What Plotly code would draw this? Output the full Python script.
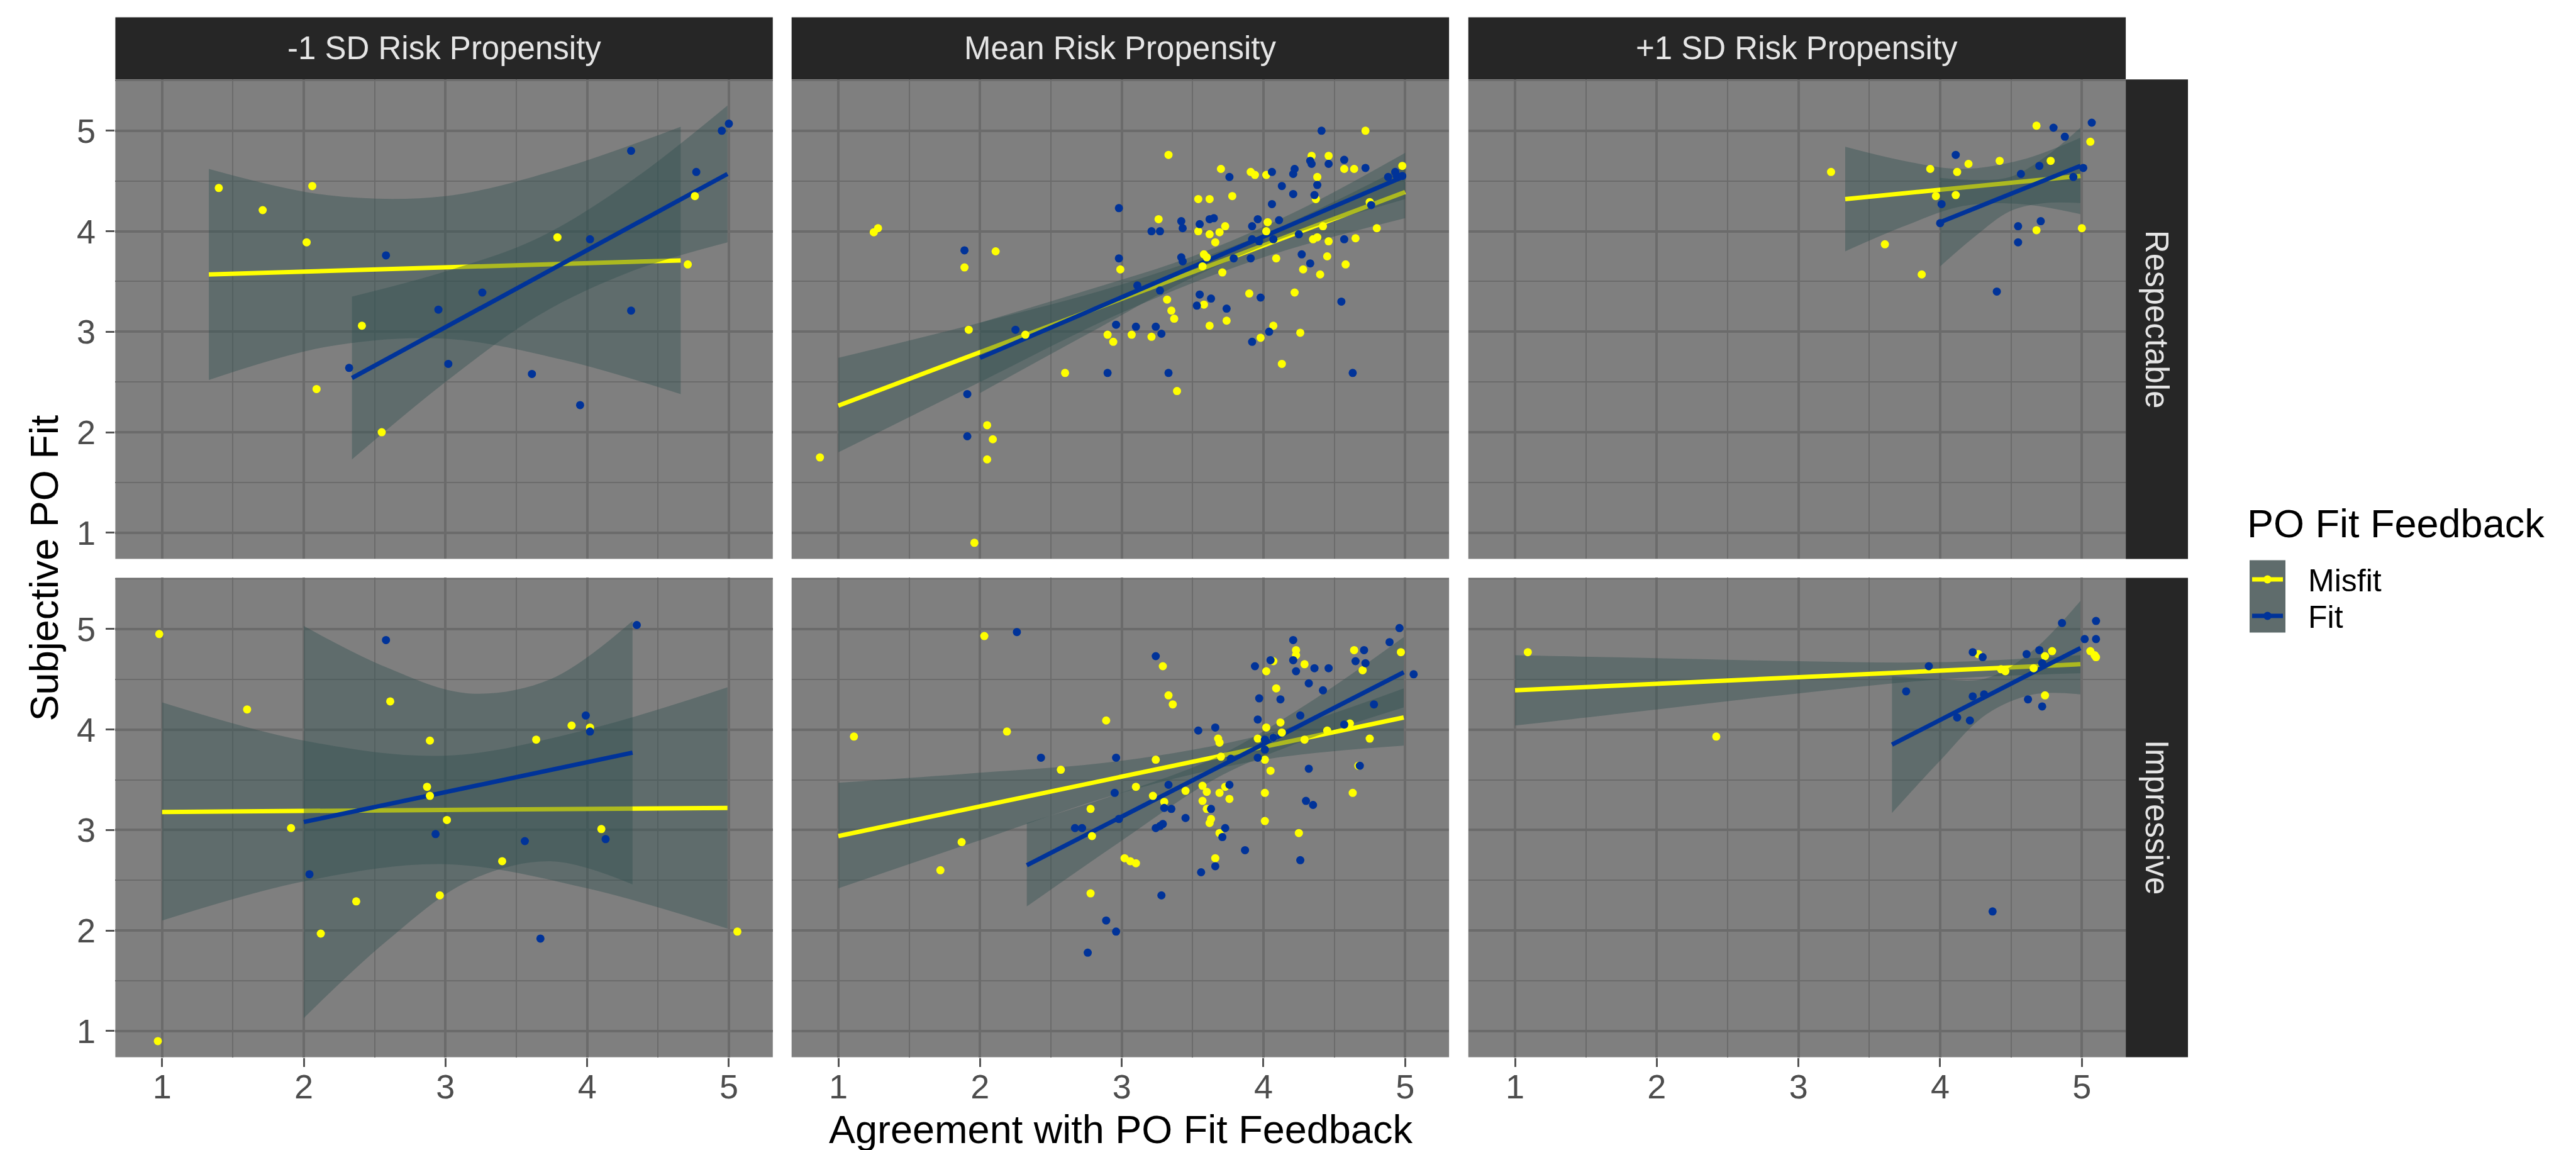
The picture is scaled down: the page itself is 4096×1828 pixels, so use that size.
import plotly.graph_objects as go

W, H = 4096, 1828
FONT = "Liberation Sans, Arial, sans-serif"
YELLOW = "#FFFF00"
BLUE = "#003399"
RIB = "rgba(47,79,79,0.4)"
GRID = "#6B6B6B"
PANEL_BG = "#7F7F7F"
STRIP_BG = "#262626"

# ---------------- categories / labels ----------------
col_labels = ["-1 SD Risk Propensity", "Mean Risk Propensity", "+1 SD Risk Propensity"]
row_labels = ["Respectable", "Impressive"]
group_labels = ["Misfit", "Fit"]
tick_vals = [1, 2, 3, 4, 5]
tick_text = ["1", "2", "3", "4", "5"]

# ---------------- points (jittered) ----------------
# Respectable, -1 SD
resp_low_misfit_x = [1.40, 2.06, 1.71, 2.02, 3.79, 4.71, 4.76, 2.41, 2.09, 2.55]
resp_low_misfit_y = [4.43, 4.45, 4.21, 3.89, 3.94, 3.67, 4.35, 3.06, 2.43, 2.00]
resp_low_fit_x = [5.00, 4.95, 4.31, 4.77, 4.02, 2.58, 3.26, 2.95, 4.31, 2.32, 3.02, 3.61, 3.95]
resp_low_fit_y = [5.07, 5.00, 4.80, 4.59, 3.92, 3.76, 3.39, 3.22, 3.21, 2.64, 2.68, 2.58, 2.27]

# Respectable, Mean
resp_mean_misfit_x = [0.87, 1.25, 1.28, 2.11, 1.89, 1.92, 2.32, 2.60, 2.05, 2.09, 2.05, 1.96, 3.33, 3.26,
                      2.99, 2.90, 2.94, 3.07, 3.21, 3.32, 3.35, 3.37, 3.39, 3.54, 3.62, 3.70, 3.78, 3.54,
                      3.62, 3.69, 3.73, 3.66, 3.58, 3.60, 3.57, 3.71, 3.58, 3.90, 3.74, 3.62, 3.91, 3.94,
                      4.02, 4.03, 4.02, 4.09, 4.07, 3.98, 4.13, 4.22, 4.26, 4.34, 4.46, 4.38, 4.37, 4.42,
                      4.35, 4.38, 4.46, 4.28, 4.40, 4.45, 4.58, 4.65, 4.57, 4.64, 4.72, 4.98, 4.75, 4.80]
resp_mean_misfit_y = [1.75, 3.99, 4.03, 3.80, 3.64, 3.02, 2.97, 2.59, 2.07, 1.93, 1.73, 0.90, 4.76, 4.12,
                      3.62, 2.97, 2.90, 2.97, 2.95, 3.32, 3.21, 3.13, 2.41, 4.32, 4.32, 4.62, 4.35, 4.00,
                      3.97, 3.99, 4.05, 3.89, 3.77, 3.74, 3.65, 3.59, 3.27, 3.38, 3.11, 3.06, 4.59, 4.56,
                      4.56, 4.09, 4.00, 3.73, 3.06, 2.94, 2.68, 3.39, 2.99, 4.75, 4.75, 4.54, 4.32, 4.05,
                      3.92, 3.94, 3.90, 3.62, 3.57, 3.75, 3.67, 3.93, 4.62, 4.62, 5.00, 4.65, 4.29, 4.03]
resp_mean_fit_x = [1.89, 1.91, 1.91, 2.25, 2.90, 2.98, 2.98, 3.11, 2.96, 3.10, 3.24, 3.28, 3.33, 3.27,
                   3.21, 3.27, 3.42, 3.43, 3.42, 3.43, 3.55, 3.62, 3.65, 3.55, 3.53, 3.63, 3.74, 3.76,
                   3.79, 3.91, 3.92, 3.96, 3.92, 3.97, 4.06, 4.06, 4.11, 4.13, 4.07, 3.98, 3.92, 4.04,
                   4.21, 4.22, 4.21, 4.25, 4.27, 4.33, 4.33, 4.34, 4.41, 4.38, 4.36, 4.46, 4.57, 4.57,
                   4.55, 4.63, 4.72, 4.88, 4.93, 4.94, 4.98, 4.76]
resp_mean_fit_y = [3.81, 2.38, 1.96, 3.02, 2.59, 4.23, 3.73, 3.46, 3.07, 3.05, 3.05, 2.98, 2.59, 3.41,
                   4.00, 4.00, 4.10, 4.03, 3.74, 3.70, 4.07, 4.12, 4.13, 3.37, 3.26, 3.33, 3.23, 4.54,
                   3.73, 3.73, 4.05, 4.12, 3.92, 3.90, 4.59, 4.27, 4.11, 4.45, 3.92, 3.34, 2.90, 3.00,
                   4.57, 4.62, 4.37, 3.97, 3.77, 3.68, 4.70, 4.67, 5.00, 4.46, 4.36, 4.67, 4.71, 3.92,
                   3.30, 2.59, 4.63, 4.54, 4.59, 4.55, 4.55, 4.26]

# Respectable, +1 SD
resp_high_misfit_x = [4.68, 5.06, 4.42, 4.78, 4.20, 3.93, 4.12, 3.23, 3.97, 4.11, 4.68, 5.00, 3.61, 3.87]
resp_high_misfit_y = [5.05, 4.89, 4.70, 4.70, 4.67, 4.62, 4.59, 4.59, 4.35, 4.36, 4.01, 4.03, 3.87, 3.57]
resp_high_fit_x = [5.07, 4.80, 4.88, 4.11, 4.70, 4.57, 5.01, 4.94, 4.01, 4.00, 4.55, 4.71, 4.55, 4.40]
resp_high_fit_y = [5.08, 5.03, 4.94, 4.76, 4.65, 4.57, 4.63, 4.54, 4.27, 4.08, 4.05, 4.10, 3.89, 3.40]

# Impressive, -1 SD
imp_low_misfit_x = [0.98, 1.60, 2.61, 2.89, 3.64, 3.89, 4.02, 2.87, 2.89, 3.01, 1.91, 4.10, 3.40, 2.96,
                    2.37, 2.12, 5.06, 0.97]
imp_low_misfit_y = [4.95, 4.20, 4.28, 3.89, 3.90, 4.04, 4.02, 3.43, 3.34, 3.10, 3.02, 3.01, 2.69, 2.35,
                    2.29, 1.97, 1.99, 0.90]
imp_low_fit_x = [4.35, 2.58, 3.99, 4.02, 2.93, 3.56, 4.13, 2.04, 3.67]
imp_low_fit_y = [5.04, 4.89, 4.14, 3.98, 2.96, 2.89, 2.91, 2.56, 1.92]

# Impressive, Mean
imp_mean_misfit_x = [1.11, 2.03, 2.19, 2.57, 1.87, 1.72, 2.89, 2.78, 2.79, 2.78, 3.02, 3.06, 3.10, 3.10,
                     3.22, 3.24, 3.29, 3.33, 3.36, 3.30, 3.45, 3.57, 3.60, 3.57, 3.60, 3.63, 3.62, 3.69,
                     3.66, 3.68, 3.69, 3.70, 3.69, 3.73, 3.76, 4.01, 4.01, 4.05, 4.01, 3.96, 4.02, 4.07,
                     4.12, 4.13, 4.02, 4.07, 4.09, 4.23, 4.23, 4.29, 4.29, 4.25, 4.45, 4.61, 4.64, 4.70,
                     4.67, 4.63, 4.75, 4.97]
imp_mean_misfit_y = [3.93, 4.93, 3.98, 3.60, 2.88, 2.60, 4.09, 3.21, 2.94, 2.37, 2.72, 2.69, 2.67, 3.43,
                     3.34, 3.70, 4.63, 4.34, 4.25, 3.28, 3.39, 3.44, 3.38, 3.29, 3.21, 3.11, 3.07, 2.97,
                     2.72, 3.91, 3.87, 3.73, 3.37, 3.43, 3.31, 3.37, 3.09, 3.59, 3.70, 3.91, 4.02, 3.92,
                     4.07, 3.97, 4.58, 4.68, 4.41, 4.79, 4.74, 4.65, 3.90, 2.97, 3.99, 4.06, 4.79, 4.59,
                     3.64, 3.37, 3.91, 4.77]
imp_mean_fit_x = [2.26, 2.43, 2.96, 2.95, 2.98, 2.67, 2.72, 2.89, 2.96, 2.76, 3.28, 3.24, 3.33, 3.30,
                  3.35, 3.24, 3.27, 3.29, 3.45, 3.54, 3.66, 3.63, 3.73, 3.71, 3.56, 3.66, 3.76, 3.77,
                  3.87, 3.94, 4.05, 3.97, 4.12, 3.96, 4.01, 4.01, 3.96, 4.07, 4.21, 4.21, 4.23, 4.36,
                  4.46, 4.32, 4.42, 4.26, 4.32, 4.30, 4.35, 4.26, 4.57, 4.65, 4.71, 4.72, 4.68, 4.78,
                  4.89, 4.96, 5.06]
imp_mean_fit_y = [4.97, 3.72, 3.72, 3.37, 3.11, 3.02, 3.02, 2.10, 1.99, 1.78, 2.35, 4.73, 3.45, 3.22,
                  3.21, 3.02, 3.04, 3.06, 3.12, 3.99, 4.02, 3.21, 3.02, 2.93, 2.58, 2.64, 3.45, 3.71,
                  2.80, 4.63, 4.69, 4.31, 4.30, 4.10, 3.90, 3.80, 3.72, 3.92, 4.89, 4.69, 4.58, 4.61,
                  4.61, 4.46, 4.39, 4.14, 3.61, 3.29, 3.25, 2.70, 4.05, 4.68, 4.79, 4.66, 3.64, 4.25,
                  4.87, 5.01, 4.55]

# Impressive, +1 SD
imp_high_misfit_x = [1.09, 2.42, 4.27, 4.43, 4.46, 4.66, 4.74, 4.79, 4.74, 5.06, 5.09, 5.10]
imp_high_misfit_y = [4.77, 3.93, 4.75, 4.60, 4.58, 4.61, 4.73, 4.78, 4.34, 4.78, 4.74, 4.72]
imp_high_fit_x = [4.86, 5.10, 5.02, 5.10, 4.23, 4.30, 4.61, 4.70, 4.72, 3.92, 3.76, 4.23, 4.31, 4.62,
                  4.72, 4.12, 4.21, 4.37]
imp_high_fit_y = [5.06, 5.08, 4.90, 4.90, 4.77, 4.72, 4.75, 4.79, 4.66, 4.63, 4.38, 4.33, 4.35, 4.30,
                  4.23, 4.12, 4.09, 2.19]

# ---------------- linear fits (line ends) and 95% CI bands ----------------
resp_low_misfit_line_x = [1.33, 4.66]; resp_low_misfit_line_y = [3.57, 3.71]
resp_low_misfit_band_x = [1.33, 2.16, 3.00, 3.83, 4.66]
resp_low_misfit_band_lo = [2.52, 2.85, 2.93, 2.72, 2.38]
resp_low_misfit_band_hi = [4.62, 4.36, 4.35, 4.63, 5.04]
resp_low_fit_line_x = [2.34, 4.99]; resp_low_fit_line_y = [2.54, 4.57]
resp_low_fit_band_x = [2.34, 3.00, 3.665, 4.33, 4.99]
resp_low_fit_band_lo = [1.73, 2.50, 3.17, 3.61, 3.89]
resp_low_fit_band_hi = [3.35, 3.60, 3.94, 4.52, 5.25]

resp_mean_misfit_line_x = [1.0, 5.0]; resp_mean_misfit_line_y = [2.265, 4.39]
resp_mean_misfit_band_x = [1.0, 2.0, 3.0, 4.0, 5.0]
resp_mean_misfit_band_lo = [1.80, 2.50, 3.19, 3.74, 4.13]
resp_mean_misfit_band_hi = [2.74, 3.09, 3.47, 3.97, 4.65]
resp_mean_fit_line_x = [2.0, 5.0]; resp_mean_fit_line_y = [2.74, 4.55]
resp_mean_fit_band_x = [2.0, 2.75, 3.5, 4.25, 5.0]
resp_mean_fit_band_lo = [2.39, 2.97, 3.54, 3.99, 4.32]
resp_mean_fit_band_hi = [3.09, 3.41, 3.75, 4.21, 4.78]

resp_high_misfit_line_x = [3.33, 4.99]; resp_high_misfit_line_y = [4.32, 4.55]
resp_high_misfit_band_x = [3.33, 3.745, 4.16, 4.575, 4.99]
resp_high_misfit_band_lo = [3.80, 4.05, 4.25, 4.27, 4.17]
resp_high_misfit_band_hi = [4.84, 4.70, 4.62, 4.71, 4.93]
resp_high_fit_line_x = [4.0, 4.99]; resp_high_fit_line_y = [4.09, 4.65]
resp_high_fit_band_x = [4.0, 4.2475, 4.495, 4.7425, 4.99]
resp_high_fit_band_lo = [3.65, 3.95, 4.20, 4.28, 4.28]
resp_high_fit_band_hi = [4.53, 4.51, 4.54, 4.74, 5.03]

imp_low_misfit_line_x = [1.0, 4.99]; imp_low_misfit_line_y = [3.18, 3.22]
imp_low_misfit_band_x = [1.0, 2.0, 3.0, 4.0, 4.99]
imp_low_misfit_band_lo = [2.10, 2.49, 2.66, 2.42, 2.02]
imp_low_misfit_band_hi = [4.27, 3.89, 3.74, 4.00, 4.42]
imp_low_fit_line_x = [2.0, 4.32]; imp_low_fit_line_y = [3.08, 3.77]
imp_low_fit_band_x = [2.0, 2.58, 3.16, 3.74, 4.32]
imp_low_fit_band_lo = [1.13, 1.89, 2.49, 2.69, 2.46]
imp_low_fit_band_hi = [5.03, 4.62, 4.36, 4.50, 5.08]

imp_mean_misfit_line_x = [1.0, 4.99]; imp_mean_misfit_line_y = [2.94, 4.12]
imp_mean_misfit_band_x = [1.0, 2.0, 3.0, 4.0, 4.99]
imp_mean_misfit_band_lo = [2.42, 2.90, 3.37, 3.70, 3.84]
imp_mean_misfit_band_hi = [3.47, 3.57, 3.69, 3.95, 4.41]
imp_mean_fit_line_x = [2.33, 4.99]; imp_mean_fit_line_y = [2.65, 4.57]
imp_mean_fit_band_x = [2.33, 2.995, 3.66, 4.325, 4.99]
imp_mean_fit_band_lo = [2.24, 2.89, 3.51, 3.91, 4.22]
imp_mean_fit_band_hi = [3.07, 3.37, 3.72, 4.27, 4.92]

imp_high_misfit_line_x = [1.0, 4.99]; imp_high_misfit_line_y = [4.39, 4.65]
imp_high_misfit_band_x = [1.0, 2.0, 3.0, 4.0, 4.99]
imp_high_misfit_band_lo = [4.04, 4.20, 4.36, 4.50, 4.56]
imp_high_misfit_band_hi = [4.74, 4.71, 4.68, 4.67, 4.74]
imp_high_fit_line_x = [3.66, 4.99]; imp_high_fit_line_y = [3.85, 4.81]
imp_high_fit_band_x = [3.66, 3.9925, 4.325, 4.6575, 4.99]
imp_high_fit_band_lo = [3.17, 3.68, 4.15, 4.35, 4.35]
imp_high_fit_band_hi = [4.53, 4.50, 4.51, 4.79, 5.28]

# ---------------- assemble panels ----------------
panels = [
    dict(misfit=(resp_low_misfit_x, resp_low_misfit_y), fit=(resp_low_fit_x, resp_low_fit_y),
         mline=(resp_low_misfit_line_x, resp_low_misfit_line_y), fline=(resp_low_fit_line_x, resp_low_fit_line_y),
         mband=(resp_low_misfit_band_x, resp_low_misfit_band_lo, resp_low_misfit_band_hi),
         fband=(resp_low_fit_band_x, resp_low_fit_band_lo, resp_low_fit_band_hi)),
    dict(misfit=(resp_mean_misfit_x, resp_mean_misfit_y), fit=(resp_mean_fit_x, resp_mean_fit_y),
         mline=(resp_mean_misfit_line_x, resp_mean_misfit_line_y), fline=(resp_mean_fit_line_x, resp_mean_fit_line_y),
         mband=(resp_mean_misfit_band_x, resp_mean_misfit_band_lo, resp_mean_misfit_band_hi),
         fband=(resp_mean_fit_band_x, resp_mean_fit_band_lo, resp_mean_fit_band_hi)),
    dict(misfit=(resp_high_misfit_x, resp_high_misfit_y), fit=(resp_high_fit_x, resp_high_fit_y),
         mline=(resp_high_misfit_line_x, resp_high_misfit_line_y), fline=(resp_high_fit_line_x, resp_high_fit_line_y),
         mband=(resp_high_misfit_band_x, resp_high_misfit_band_lo, resp_high_misfit_band_hi),
         fband=(resp_high_fit_band_x, resp_high_fit_band_lo, resp_high_fit_band_hi)),
    dict(misfit=(imp_low_misfit_x, imp_low_misfit_y), fit=(imp_low_fit_x, imp_low_fit_y),
         mline=(imp_low_misfit_line_x, imp_low_misfit_line_y), fline=(imp_low_fit_line_x, imp_low_fit_line_y),
         mband=(imp_low_misfit_band_x, imp_low_misfit_band_lo, imp_low_misfit_band_hi),
         fband=(imp_low_fit_band_x, imp_low_fit_band_lo, imp_low_fit_band_hi)),
    dict(misfit=(imp_mean_misfit_x, imp_mean_misfit_y), fit=(imp_mean_fit_x, imp_mean_fit_y),
         mline=(imp_mean_misfit_line_x, imp_mean_misfit_line_y), fline=(imp_mean_fit_line_x, imp_mean_fit_line_y),
         mband=(imp_mean_misfit_band_x, imp_mean_misfit_band_lo, imp_mean_misfit_band_hi),
         fband=(imp_mean_fit_band_x, imp_mean_fit_band_lo, imp_mean_fit_band_hi)),
    dict(misfit=(imp_high_misfit_x, imp_high_misfit_y), fit=(imp_high_fit_x, imp_high_fit_y),
         mline=(imp_high_misfit_line_x, imp_high_misfit_line_y), fline=(imp_high_fit_line_x, imp_high_fit_line_y),
         mband=(imp_high_misfit_band_x, imp_high_misfit_band_lo, imp_high_misfit_band_hi),
         fband=(imp_high_fit_band_x, imp_high_fit_band_lo, imp_high_fit_band_hi)),
]

# ---------------- layout geometry (pixels in 4096x1828 window) ----------------
col_px = [(175.4, 1220.8), (1250.7, 2296.1), (2326.7, 3372.1)]
row_px = [(118.3, 880.4), (910.4, 1672.5)]
strip_top_px = (19.5, 118.3)
strip_right_px = (3372.1, 3471.0)
X_RANGE = [0.67, 5.31]
Y_RANGE = [0.74, 5.51]
YLABEL_RIGHT_PX = 146


def fx(p):
    return p / W


def fy(p):
    return 1 - p / H


fig = go.Figure()

for i, p in enumerate(panels):
    idx = i + 1
    xa = "x" if idx == 1 else f"x{idx}"
    ya = "y" if idx == 1 else f"y{idx}"
    for band_key, line_key, color in (("mband", "mline", YELLOW), ("fband", "fline", BLUE)):
        bx, blo, bhi = p[band_key]
        fig.add_trace(go.Scatter(x=bx, y=blo, mode="lines", xaxis=xa, yaxis=ya,
                                 line=dict(width=0, color="rgba(0,0,0,0)", shape="spline"),
                                 showlegend=False, hoverinfo="skip"))
        fig.add_trace(go.Scatter(x=bx, y=bhi, mode="lines", xaxis=xa, yaxis=ya, fill="tonexty",
                                 fillcolor=RIB,
                                 line=dict(width=0, color="rgba(0,0,0,0)", shape="spline"),
                                 showlegend=False, hoverinfo="skip"))
        lx, ly = p[line_key]
        fig.add_trace(go.Scatter(x=lx, y=ly, mode="lines", xaxis=xa, yaxis=ya,
                                 line=dict(width=7, color=color), showlegend=False, hoverinfo="skip"))
    for key, color, name in (("misfit", YELLOW, group_labels[0]), ("fit", BLUE, group_labels[1])):
        px_, py_ = p[key]
        fig.add_trace(go.Scatter(x=px_, y=py_, mode="markers", xaxis=xa, yaxis=ya, name=name,
                                 marker=dict(size=13, color=color, line=dict(width=0)),
                                 showlegend=False))

layout = dict(
    width=W, height=H, margin=dict(l=0, r=0, t=0, b=0),
    paper_bgcolor="white", plot_bgcolor=PANEL_BG,
    font=dict(family=FONT, color="black"),
    showlegend=False,
)

tick_font = dict(family=FONT, size=54, color="#4D4D4D")
for i in range(6):
    r, c = divmod(i, 3)
    idx = i + 1
    xkey = "xaxis" if idx == 1 else f"xaxis{idx}"
    ykey = "yaxis" if idx == 1 else f"yaxis{idx}"
    xa = "x" if idx == 1 else f"x{idx}"
    ya = "y" if idx == 1 else f"y{idx}"
    layout[xkey] = dict(
        domain=[fx(col_px[c][0]), fx(col_px[c][1])], anchor=ya, range=X_RANGE,
        tickmode="array", tickvals=tick_vals, ticktext=tick_text,
        showgrid=True, gridcolor=GRID, gridwidth=3.5,
        minor=dict(tick0=0.5, dtick=0.5, showgrid=True, gridcolor=GRID, gridwidth=2),
        zeroline=False, showline=False,
        ticks="outside" if r == 1 else "", ticklen=14, tickwidth=2.5, tickcolor="#555555",
        showticklabels=(r == 1), tickfont=tick_font, ticklabelstandoff=-14,
        fixedrange=True,
    )
    layout[ykey] = dict(
        domain=[fy(row_px[r][1]), fy(row_px[r][0])], anchor=xa, range=Y_RANGE,
        tickmode="array", tickvals=tick_vals, ticktext=tick_text,
        showgrid=True, gridcolor=GRID, gridwidth=3.5,
        minor=dict(tick0=0.5, dtick=0.5, showgrid=True, gridcolor=GRID, gridwidth=2),
        zeroline=False, showline=False,
        ticks="outside" if c == 0 else "", ticklen=14, tickwidth=2.5, tickcolor="#555555",
        showticklabels=False,
        fixedrange=True,
    )

shapes = []
annotations = []

# y tick labels of the left column, placed on the y axes' own scale
for r in range(2):
    ya = "y" if r == 0 else "y4"
    for v, t in zip(tick_vals, tick_text):
        annotations.append(dict(text=t, xref="paper", yref=ya, x=fx(YLABEL_RIGHT_PX), y=v,
                                xanchor="right", yanchor="middle", showarrow=False,
                                font=tick_font))

# top strips
for c, lab in enumerate(col_labels):
    shapes.append(dict(type="rect", xref="paper", yref="paper", layer="below",
                       x0=fx(col_px[c][0]), x1=fx(col_px[c][1]),
                       y0=fy(strip_top_px[1]), y1=fy(strip_top_px[0]),
                       fillcolor=STRIP_BG, line=dict(width=0)))
    annotations.append(dict(text=lab, xref="paper", yref="paper", showarrow=False,
                            x=fx((col_px[c][0] + col_px[c][1]) / 2),
                            y=fy((strip_top_px[0] + strip_top_px[1]) / 2),
                            xanchor="center", yanchor="middle",
                            font=dict(family=FONT, size=51, color="#E5E5E5")))
# right strips
for r, lab in enumerate(row_labels):
    shapes.append(dict(type="rect", xref="paper", yref="paper", layer="below",
                       x0=fx(strip_right_px[0]), x1=fx(strip_right_px[1]),
                       y0=fy(row_px[r][1]), y1=fy(row_px[r][0]),
                       fillcolor=STRIP_BG, line=dict(width=0)))
    annotations.append(dict(text=lab, xref="paper", yref="paper", showarrow=False,
                            x=fx((strip_right_px[0] + strip_right_px[1]) / 2),
                            y=fy((row_px[r][0] + row_px[r][1]) / 2),
                            xanchor="center", yanchor="middle", textangle=90,
                            font=dict(family=FONT, size=51, color="#E5E5E5")))

# axis titles
annotations.append(dict(text="Agreement with PO Fit Feedback", xref="paper", yref="paper", showarrow=False,
                        x=fx((col_px[0][0] + col_px[2][1]) / 2), y=fy(1787),
                        xanchor="center", yanchor="middle",
                        font=dict(family=FONT, size=63, color="black")))
annotations.append(dict(text="Subjective PO Fit", xref="paper", yref="paper", showarrow=False,
                        x=fx(62), y=fy((row_px[0][0] + row_px[1][1]) / 2),
                        xanchor="center", yanchor="middle", textangle=-90,
                        font=dict(family=FONT, size=63, color="black")))

# legend (drawn manually to mimic ggplot key with ribbon background)
leg_x0, leg_x1 = 3569.0, 3626.0
leg_y0, leg_y1 = 882.5, 997.4
key_y = [913.0, 971.0]
key_colors = [YELLOW, BLUE]
annotations.append(dict(text="PO Fit Feedback", xref="paper", yref="paper", showarrow=False,
                        x=fx(3563), y=fy(824), xanchor="left", yanchor="middle",
                        font=dict(family=FONT, size=63, color="black")))
shapes.append(dict(type="rect", xref="paper", yref="paper",
                   x0=fx(leg_x0), x1=fx(leg_x1), y0=fy(leg_y1), y1=fy(leg_y0),
                   fillcolor="#5F6C6C", line=dict(width=0)))
for ky, kc, lab in zip(key_y, key_colors, group_labels):
    shapes.append(dict(type="line", xref="paper", yref="paper",
                       x0=fx(leg_x0 + 4), x1=fx(leg_x1 - 4), y0=fy(ky), y1=fy(ky),
                       line=dict(color=kc, width=7)))
    shapes.append(dict(type="circle", xref="paper", yref="paper",
                       xsizemode="pixel", ysizemode="pixel",
                       xanchor=fx((leg_x0 + leg_x1) / 2), yanchor=fy(ky),
                       x0=-6.5, x1=6.5, y0=-6.5, y1=6.5,
                       fillcolor=kc, line=dict(width=0)))
    annotations.append(dict(text=lab, xref="paper", yref="paper", showarrow=False,
                            x=fx(3660), y=fy(ky + 2), xanchor="left", yanchor="middle",
                            font=dict(family=FONT, size=50, color="black")))

layout["shapes"] = shapes
layout["annotations"] = annotations
fig.update_layout(**layout)

fig.write_html("out.html", config={"displayModeBar": False})
